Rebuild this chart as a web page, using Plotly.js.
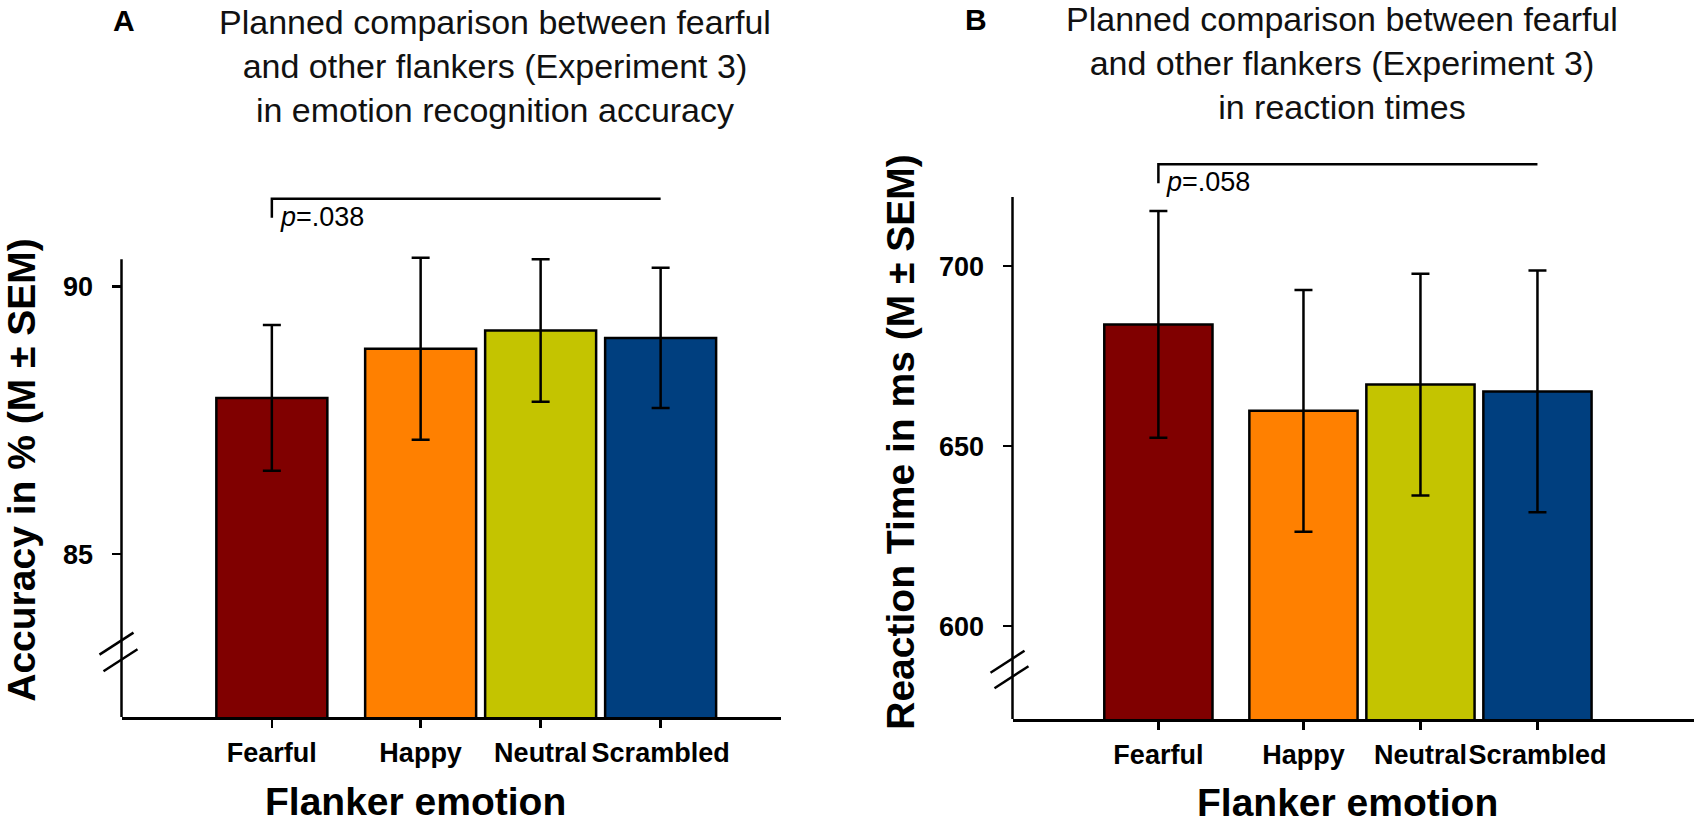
<!DOCTYPE html>
<html>
<head>
<meta charset="utf-8">
<script src="https://cdn.plot.ly/plotly-3.0.1.min.js"></script>
<style>
  html, body { margin: 0; padding: 0; background: #fff; }
  #chart { width: 1700px; height: 823px; }
</style>
</head>
<body>
<div id="chart"></div>
<script>
// ---------------- data ----------------
const categories = ['Fearful', 'Happy', 'Neutral', 'Scrambled'];
const accuracyMean = [87.92, 88.84, 89.18, 89.04];
const accuracySEM  = [1.36, 1.70, 1.33, 1.31];
const rtMean = [683.8, 659.8, 667.1, 665.2];
const rtSEM  = [31.5, 33.6, 30.8, 33.6];
const accuracyTicks = [85, 90];
const rtTicks = [600, 650, 700];
const pLabels = ['<i>p</i>=.038', '<i>p</i>=.058'];
const panelLetters = ['A', 'B'];
const panelTitles = [
  'Planned comparison between fearful<br>and other flankers (Experiment 3)<br>in emotion recognition accuracy',
  'Planned comparison between fearful<br>and other flankers (Experiment 3)<br>in reaction times'
];
const yTitles = ['Accuracy in % (M ± SEM)', 'Reaction Time in ms (M ± SEM)'];
const xTitle = 'Flanker emotion';

// ---------------- style / layout config ----------------
const W = 1700, H = 823;
const FONT = 'Liberation Sans, Arial, Helvetica, sans-serif';
const barColors = ['#800000', '#FF8000', '#C4C400', '#003F7F'];
const slots = [0, 1.24, 2.24, 3.24];     // horizontal slot of each category
const barWidth = 0.925;
const LW = 2.5;

// yPx: [bottom px, top px] of the y domain; yr: value range over that domain
const panels = [
  { xPx: [121.5, 780.5], yPx: [717, 223], xr: [-1.253, 4.239], yr: [81.96, 91.187],
    yLineTop: 90.51, bracketY: 91.64, breakY: [83.33, 83.02], yStandoff: 19,
    titlePx: [495, 66], letterPx: [124, 21], xTitlePx: [415, 801] },
  { xPx: [1012.5, 1694], yPx: [719, 165], xr: [-1.247, 4.578], yr: [574.2, 728.09],
    yLineTop: 719.2, bracketY: 728.3, breakY: [590.1, 585.8], yStandoff: 12,
    titlePx: [1341.6, 63], letterPx: [976, 20], xTitlePx: [1347, 802] }
];

function domX(p) { return [p.xPx[0] / W, p.xPx[1] / W]; }
function domY(p) { return [1 - p.yPx[0] / H, 1 - p.yPx[1] / H]; }
function paperX(p, v) { const d = domX(p); return d[0] + (v - p.xr[0]) / (p.xr[1] - p.xr[0]) * (d[1] - d[0]); }
function paperY(p, v) { const d = domY(p); return d[0] + (v - p.yr[0]) / (p.yr[1] - p.yr[0]) * (d[1] - d[0]); }

const means = [accuracyMean, rtMean];
const sems = [accuracySEM, rtSEM];
const ticks = [accuracyTicks, rtTicks];

const traces = [];
const shapes = [];
const annotations = [];
const layout = {
  width: W, height: H,
  margin: { l: 0, r: 0, t: 0, b: 0 },
  paper_bgcolor: '#fff', plot_bgcolor: '#fff',
  showlegend: false,
  font: { family: FONT, color: '#000' }
};

panels.forEach((p, i) => {
  const sfx = i === 0 ? '' : String(i + 1);
  traces.push({
    type: 'bar',
    x: slots,
    y: means[i],
    width: barWidth,
    xaxis: 'x' + sfx, yaxis: 'y' + sfx,
    marker: { color: barColors, line: { color: '#000', width: LW } },
    error_y: { type: 'data', array: sems[i], visible: true, color: '#000', thickness: LW, width: 9 },
    hovertext: categories,
    cliponaxis: false
  });

  layout['xaxis' + sfx] = {
    domain: domX(p), range: p.xr, anchor: 'y' + sfx,
    showgrid: false, zeroline: false,
    showline: true, linecolor: '#000', linewidth: LW,
    ticks: 'outside', ticklen: 8, tickwidth: LW, tickcolor: '#000',
    tickvals: slots, ticktext: categories, tickangle: 0,
    tickfont: { family: FONT, size: 27, weight: 'bold', color: '#000' },
    ticklabelstandoff: 2,
    fixedrange: true
  };
  layout['yaxis' + sfx] = {
    domain: domY(p), range: p.yr, anchor: 'x' + sfx,
    showgrid: false, zeroline: false, showline: false,
    ticks: 'outside', ticklen: 9, tickwidth: LW, tickcolor: '#000',
    tickvals: ticks[i], ticktext: ticks[i].map(String),
    tickfont: { family: FONT, size: 27, weight: 'bold', color: '#000' },
    ticklabelstandoff: 13,
    title: { text: yTitles[i], font: { family: FONT, size: 39, weight: 'bold', color: '#000' }, standoff: p.yStandoff },
    fixedrange: true
  };

  // x axis title (placed under the panel as in the reference)
  annotations.push({ xref: 'paper', yref: 'paper', x: p.xTitlePx[0] / W, y: 1 - p.xTitlePx[1] / H,
    xanchor: 'center', yanchor: 'middle', showarrow: false, text: xTitle,
    font: { family: FONT, size: 39, weight: 'bold', color: '#000' } });

  // y axis line (stops at the top of the axis, below the bracket)
  const ax0 = domX(p)[0];
  shapes.push({ type: 'line', xref: 'paper', yref: 'paper',
    x0: ax0, x1: ax0, y0: domY(p)[0], y1: paperY(p, p.yLineTop),
    line: { color: '#000', width: LW } });

  // axis break marks
  p.breakY.forEach((bv, k) => {
    const cy = paperY(p, bv) * H;  // px from bottom
    const cx = p.xPx[0] - 3 + (k === 0 ? -2 : 2);
    shapes.push({ type: 'line', xref: 'paper', yref: 'paper',
      x0: (cx - 17) / W, x1: (cx + 17) / W,
      y0: (cy - 11) / H, y1: (cy + 11) / H,
      line: { color: '#000', width: LW } });
  });

  // significance bracket from Fearful to Scrambled
  const bx0 = paperX(p, slots[0]), bx1 = paperX(p, slots[3]);
  const by = paperY(p, p.bracketY);
  shapes.push({ type: 'path', xref: 'paper', yref: 'paper',
    path: `M ${bx0} ${by - 19 / H} L ${bx0} ${by} L ${bx1} ${by}`,
    line: { color: '#000', width: LW } });
  annotations.push({ xref: 'paper', yref: 'paper', x: bx0 + 6 / W, y: by - 18 / H,
    xanchor: 'left', yanchor: 'middle', showarrow: false, text: pLabels[i],
    font: { family: FONT, size: 27, color: '#000' } });

  // panel title + letter
  annotations.push({ xref: 'paper', yref: 'paper', x: p.titlePx[0] / W, y: 1 - p.titlePx[1] / H,
    xanchor: 'center', yanchor: 'middle', showarrow: false, text: panelTitles[i],
    font: { family: FONT, size: 34, color: '#111' } });
  annotations.push({ xref: 'paper', yref: 'paper', x: p.letterPx[0] / W, y: 1 - p.letterPx[1] / H,
    xanchor: 'center', yanchor: 'middle', showarrow: false, text: panelLetters[i],
    font: { family: FONT, size: 30, weight: 'bold', color: '#000' } });
});

layout.shapes = shapes;
layout.annotations = annotations;

Plotly.newPlot('chart', traces, layout, { displayModeBar: false, staticPlot: true });
</script>
</body>
</html>
